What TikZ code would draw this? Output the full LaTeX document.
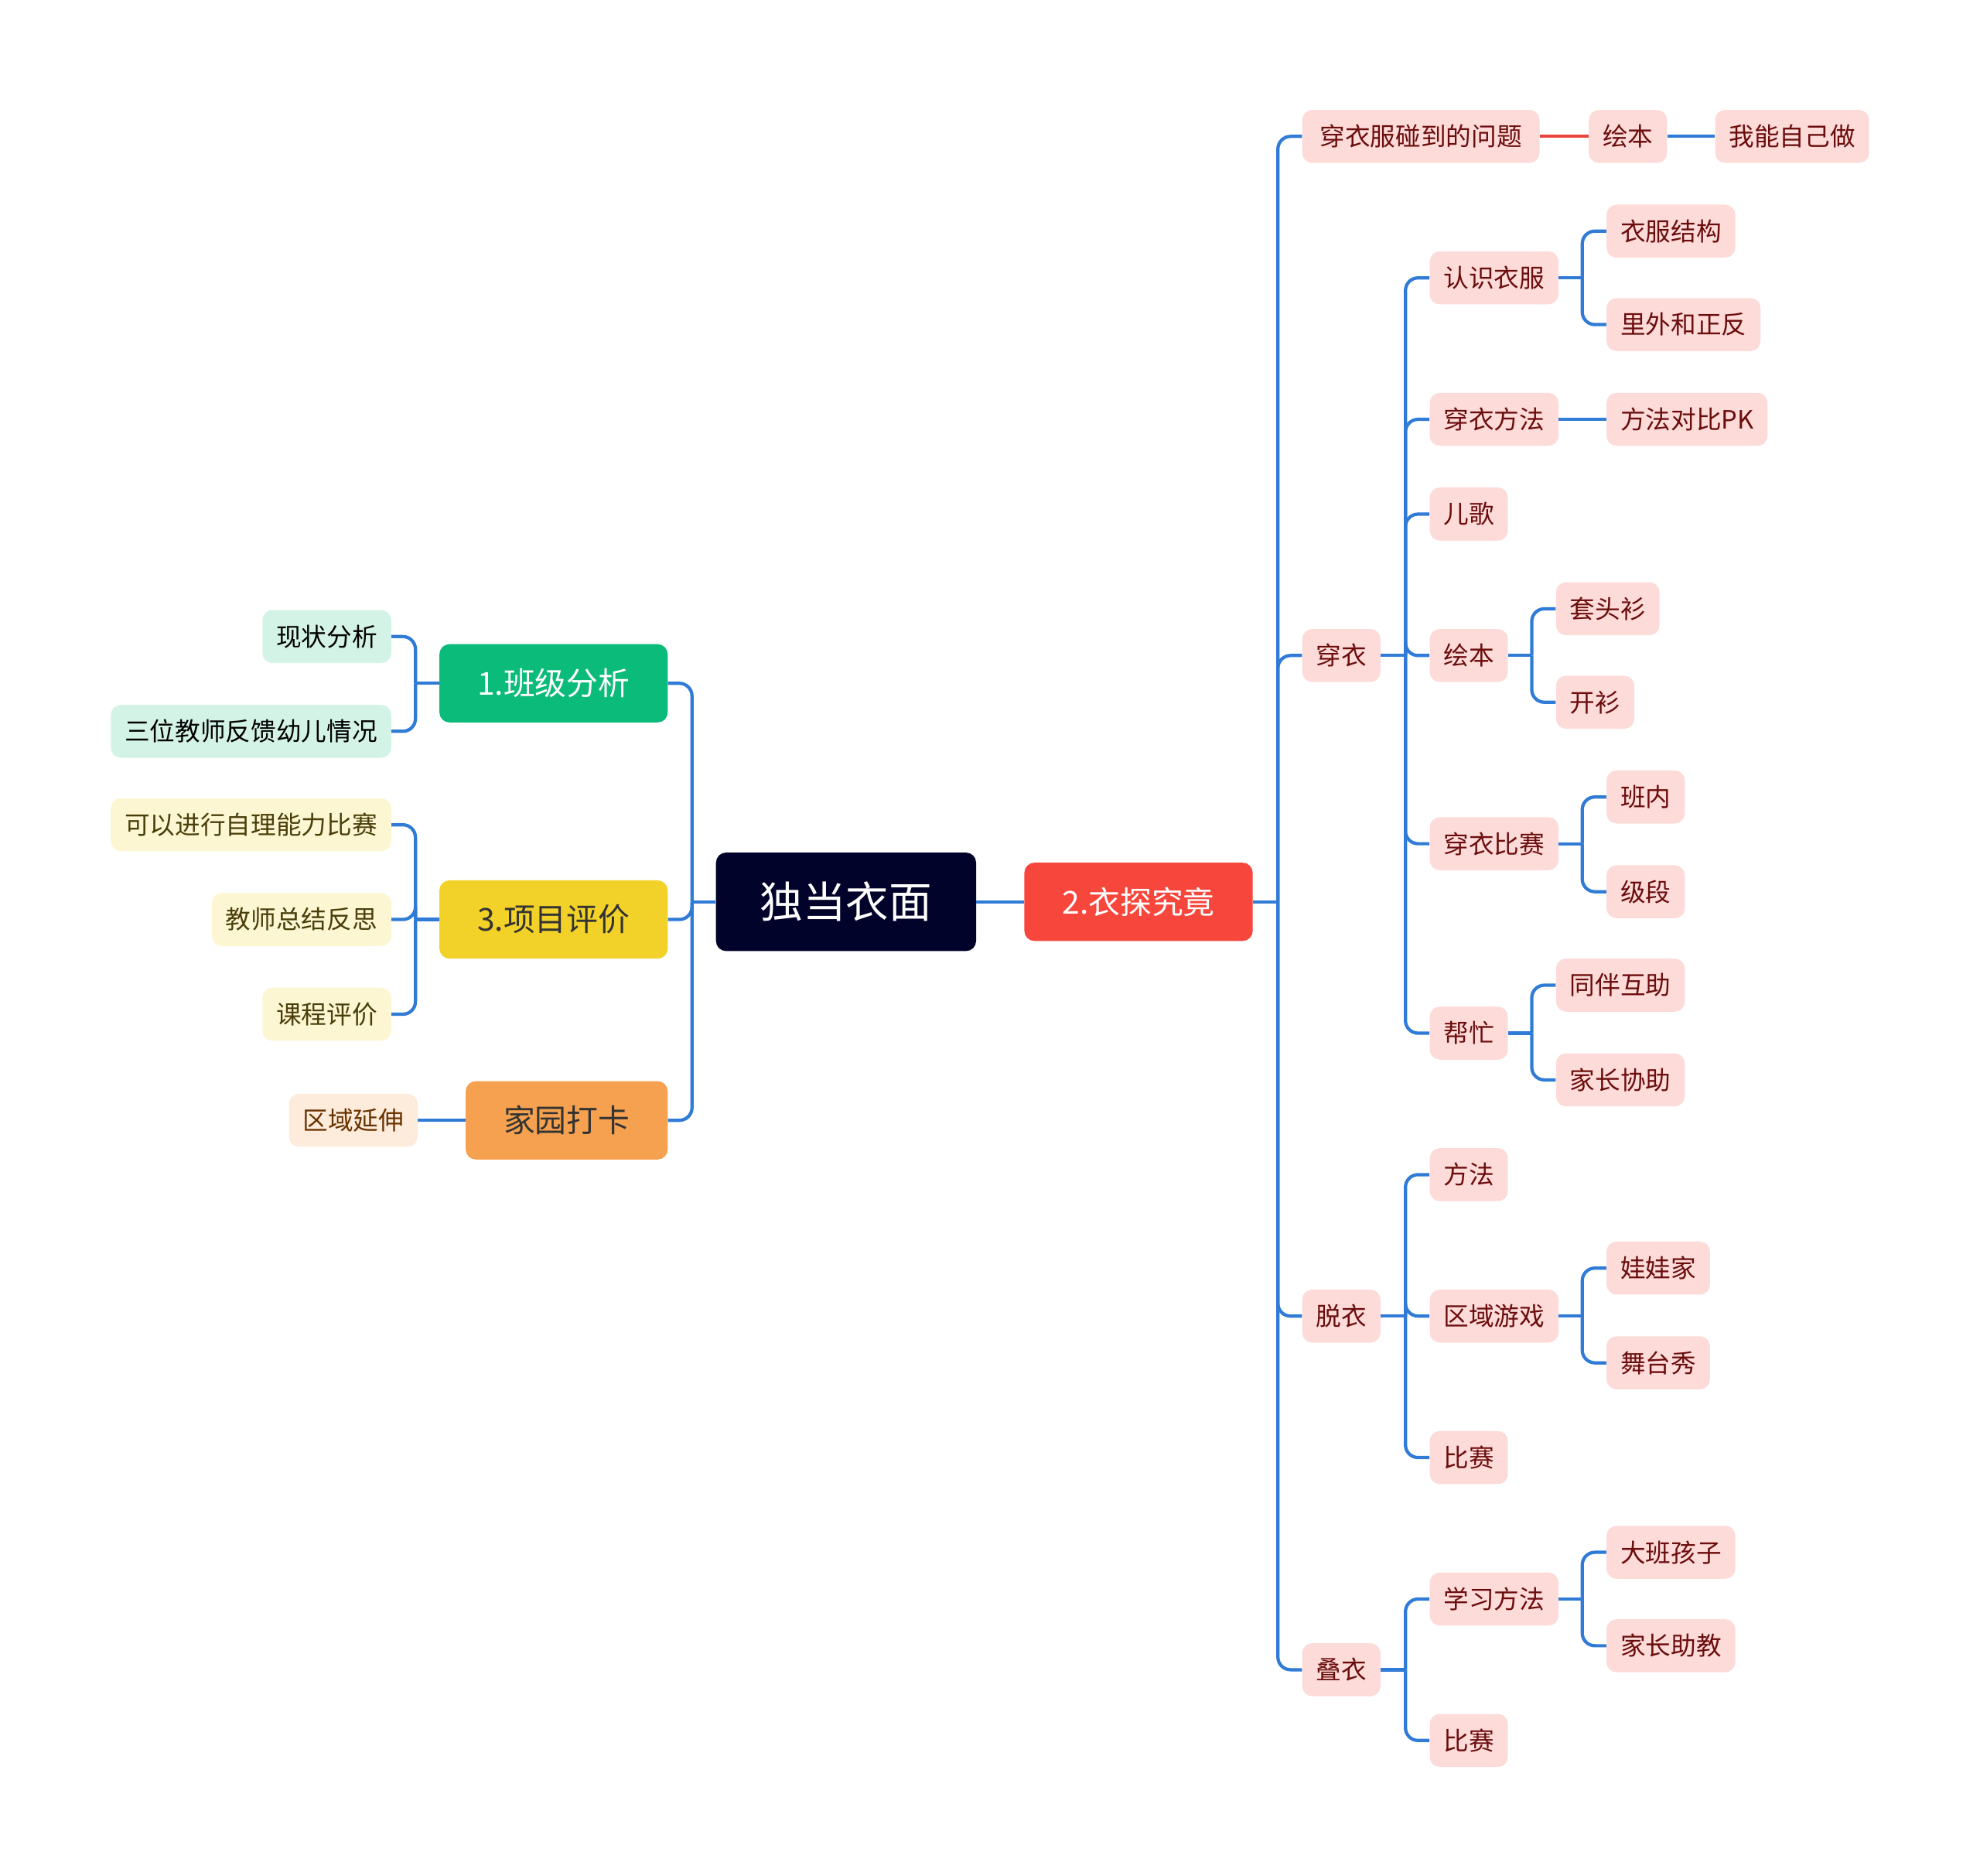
\documentclass[tikz,border=0pt]{standalone}
\usepackage{fontspec}
\setmainfont{Noto Sans CJK SC}
\usetikzlibrary{positioning}

\definecolor{linkblue}{HTML}{2F7BD6}
\definecolor{linkred}{HTML}{E8453C}
\definecolor{rootfill}{HTML}{02032A}
\definecolor{redfill}{HTML}{F7463C}
\definecolor{greenfill}{HTML}{0BBB79}
\definecolor{yellowfill}{HTML}{F2D228}
\definecolor{orangefill}{HTML}{F5A14F}
\definecolor{pinkfill}{HTML}{FDDBD9}
\definecolor{pinktext}{HTML}{6B0D0D}
\definecolor{mintfill}{HTML}{D3F3E6}
\definecolor{creamfill}{HTML}{FCF6D2}
\definecolor{creamtext}{HTML}{4A3F0B}
\definecolor{peachfill}{HTML}{FDEBDB}
\definecolor{peachtext}{HTML}{6A3200}

\tikzset{
  leaf/.style={rounded corners=8pt, minimum height=42pt, inner xsep=11pt, inner ysep=0pt,
    font=\fontsize{20}{24}\selectfont},
  pinkleaf/.style={leaf, fill=pinkfill, text=pinktext},
  mintleaf/.style={leaf, fill=mintfill, text=black},
  creamleaf/.style={leaf, fill=creamfill, text=creamtext},
  peachleaf/.style={leaf, fill=peachfill, text=peachtext},
  topic/.style={rounded corners=8pt, minimum height=62pt, inner xsep=30pt, inner ysep=0pt,
    font=\fontsize{25}{30}\selectfont},
  rootbox/.style={rounded corners=8pt, minimum height=78pt, inner xsep=35pt, inner ysep=0pt,
    fill=rootfill, text=white, font=\fontsize{34}{40}\selectfont},
  link/.style={draw=linkblue, line width=2.6pt, rounded corners=10pt},
}

\begin{document}
\begin{tikzpicture}[x=1pt,y=-1pt]
  \useasboundingbox (0,0) rectangle (1568,1485);

  % centre and main topics
  \node[rootbox] (root) at (670,714) {独当衣面};
  \node[topic, fill=redfill, text=white, anchor=west] (yi) at (811,714) {2.衣探究竟};
  \node[topic, fill=greenfill, text=white, anchor=east] (ban) at (529,541) {1.班级分析};
  \node[topic, fill=yellowfill, text=black!80, anchor=east] (xiang) at (529,728) {3.项目评价};
  \node[topic, fill=orangefill, text=black!80, anchor=east] (jia) at (529,887) {家园打卡};

  % left side
  \node[mintleaf, anchor=east] (xz) at (310,504) {现状分析};
  \node[mintleaf, anchor=east] (fk) at (310,579) {三位教师反馈幼儿情况};
  \node[creamleaf, anchor=east] (ky) at (310,653) {可以进行自理能力比赛};
  \node[creamleaf, anchor=east] (zj) at (310,728) {教师总结反思};
  \node[creamleaf, anchor=east] (kc) at (310,803) {课程评价};
  \node[peachleaf, anchor=east] (qyys) at (331,887) {区域延伸};

  % right side, first level
  \node[pinkleaf, anchor=west, minimum width=188pt] (wt) at (1031,108) {穿衣服碰到的问题};
  \node[pinkleaf, anchor=west] (chuan) at (1031,519) {穿衣};
  \node[pinkleaf, anchor=west] (tuo) at (1031,1042) {脱衣};
  \node[pinkleaf, anchor=west] (die) at (1031,1322) {叠衣};

  \node[pinkleaf, anchor=west] (hb1) at (1258,108) {绘本};
  \node[pinkleaf, anchor=west] (zjz) at (1358,108) {我能自己做};

  % chuan yi
  \node[pinkleaf, anchor=west] (rs) at (1132,220) {认识衣服};
  \node[pinkleaf, anchor=west] (ff1) at (1132,332) {穿衣方法};
  \node[pinkleaf, anchor=west] (eg) at (1132,407) {儿歌};
  \node[pinkleaf, anchor=west] (hb2) at (1132,519) {绘本};
  \node[pinkleaf, anchor=west] (bs) at (1132,668) {穿衣比赛};
  \node[pinkleaf, anchor=west] (bm) at (1132,818) {帮忙};

  \node[pinkleaf, anchor=west] (jg) at (1272,183) {衣服结构};
  \node[pinkleaf, anchor=west] (lw) at (1272,257) {里外和正反};
  \node[pinkleaf, anchor=west] (pk) at (1272,332) {方法对比PK};
  \node[pinkleaf, anchor=west] (tt) at (1232,482) {套头衫};
  \node[pinkleaf, anchor=west] (ks) at (1232,556) {开衫};
  \node[pinkleaf, anchor=west] (bn) at (1272,631) {班内};
  \node[pinkleaf, anchor=west] (jd) at (1272,706) {级段};
  \node[pinkleaf, anchor=west] (tb) at (1232,780) {同伴互助};
  \node[pinkleaf, anchor=west] (xz2) at (1232,855) {家长协助};

  % tuo yi
  \node[pinkleaf, anchor=west] (ff2) at (1132,930) {方法};
  \node[pinkleaf, anchor=west] (qy) at (1132,1042) {区域游戏};
  \node[pinkleaf, anchor=west] (bs2) at (1132,1154) {比赛};
  \node[pinkleaf, anchor=west] (ww) at (1272,1004) {娃娃家};
  \node[pinkleaf, anchor=west] (wt2) at (1272,1079) {舞台秀};

  % die yi
  \node[pinkleaf, anchor=west] (xx) at (1132,1266) {学习方法};
  \node[pinkleaf, anchor=west] (bs3) at (1132,1378) {比赛};
  \node[pinkleaf, anchor=west] (db) at (1272,1229) {大班孩子};
  \node[pinkleaf, anchor=west] (zhj) at (1272,1303) {家长助教};

  % branch points
  \coordinate (lbus) at (548,714);
  \coordinate (rbus) at (1012,714);
  \coordinate (banbus) at (329,541);
  \coordinate (xiangbus) at (329,728);
  \coordinate (chuanbus) at (1113,519);
  \coordinate (rsbus) at (1253,220);
  \coordinate (hbbus) at (1213,519);
  \coordinate (bsbus) at (1253,668);
  \coordinate (bmbus) at (1213,818);
  \coordinate (tuobus) at (1113,1042);
  \coordinate (qybus) at (1253,1042);
  \coordinate (diebus) at (1113,1322);
  \coordinate (xxbus) at (1253,1266);

  % connectors
  \draw[link] (root) -- (yi);
  \draw[link] (root.west) -- (lbus);
  \draw[link] (lbus) |- (ban.east);
  \draw[link] (lbus) |- (xiang.east);
  \draw[link] (lbus) |- (jia.east);

  \draw[link] (ban.west) -- (banbus);
  \draw[link] (banbus) |- (xz.east);
  \draw[link] (banbus) |- (fk.east);
  \draw[link] (xiang.west) -- (xiangbus);
  \draw[link] (xiangbus) |- (ky.east);
  \draw[link] (xiangbus) |- (zj.east);
  \draw[link] (xiangbus) |- (kc.east);
  \draw[link] (jia.west) -- (qyys.east);

  \draw[link] (yi.east) -- (rbus);
  \draw[link] (rbus) |- (wt.west);
  \draw[link] (rbus) |- (chuan.west);
  \draw[link] (rbus) |- (tuo.west);
  \draw[link] (rbus) |- (die.west);
  \draw[link, draw=linkred] (wt.east) -- (hb1.west);
  \draw[link] (hb1.east) -- (zjz.west);

  \draw[link] (chuan.east) -- (chuanbus);
  \draw[link] (chuanbus) |- (rs.west);
  \draw[link] (chuanbus) |- (ff1.west);
  \draw[link] (chuanbus) |- (eg.west);
  \draw[link] (chuanbus) |- (hb2.west);
  \draw[link] (chuanbus) |- (bs.west);
  \draw[link] (chuanbus) |- (bm.west);

  \draw[link] (rs.east) -- (rsbus);
  \draw[link] (rsbus) |- (jg.west);
  \draw[link] (rsbus) |- (lw.west);
  \draw[link] (ff1.east) -- (pk.west);
  \draw[link] (hb2.east) -- (hbbus);
  \draw[link] (hbbus) |- (tt.west);
  \draw[link] (hbbus) |- (ks.west);
  \draw[link] (bs.east) -- (bsbus);
  \draw[link] (bsbus) |- (bn.west);
  \draw[link] (bsbus) |- (jd.west);
  \draw[link] (bm.east) -- (bmbus);
  \draw[link] (bmbus) |- (tb.west);
  \draw[link] (bmbus) |- (xz2.west);

  \draw[link] (tuo.east) -- (tuobus);
  \draw[link] (tuobus) |- (ff2.west);
  \draw[link] (tuobus) |- (qy.west);
  \draw[link] (tuobus) |- (bs2.west);
  \draw[link] (qy.east) -- (qybus);
  \draw[link] (qybus) |- (ww.west);
  \draw[link] (qybus) |- (wt2.west);

  \draw[link] (die.east) -- (diebus);
  \draw[link] (diebus) |- (xx.west);
  \draw[link] (diebus) |- (bs3.west);
  \draw[link] (xx.east) -- (xxbus);
  \draw[link] (xxbus) |- (db.west);
  \draw[link] (xxbus) |- (zhj.west);
\end{tikzpicture}
\end{document}
